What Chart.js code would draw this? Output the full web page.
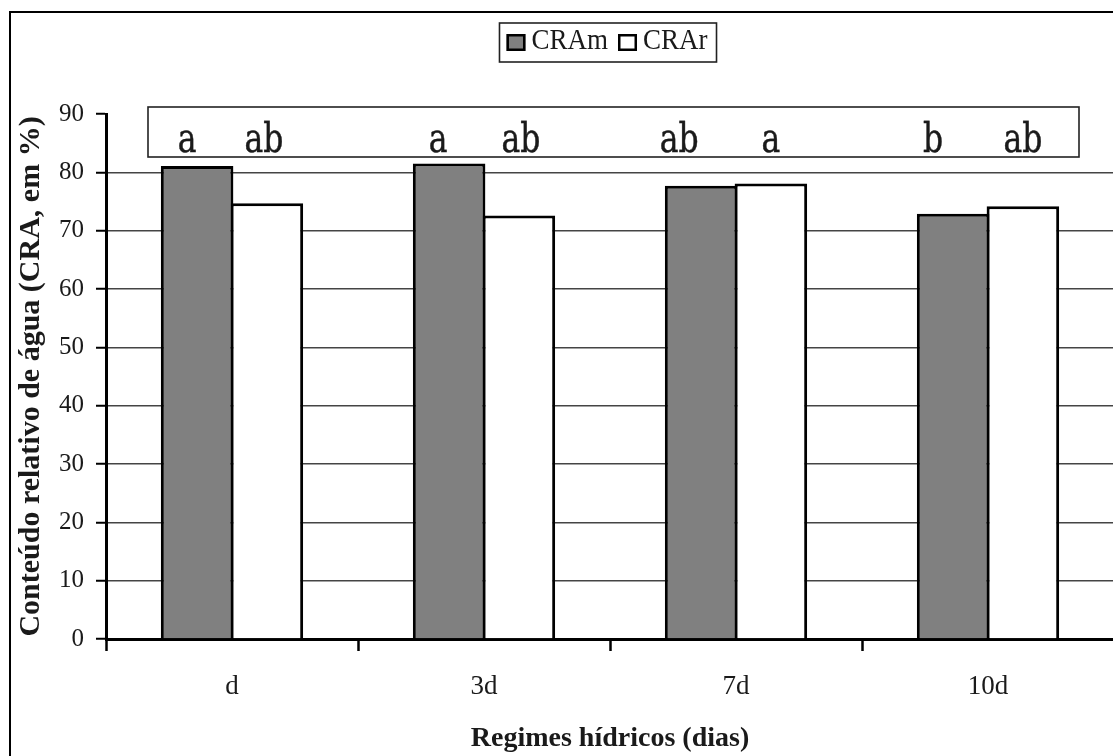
<!DOCTYPE html>
<html>
<head>
<meta charset="utf-8">
<script src="https://cdn.jsdelivr.net/npm/chart.js@4.4.1/dist/chart.umd.min.js"></script>
<style>
  html, body { margin: 0; padding: 0; background: #fff; overflow: hidden; width: 1113px; height: 756px; }
  #wrap { position: absolute; left: 0; top: 0; width: 1120px; height: 756px; }
  #frame { position: absolute; left: 9px; top: 11px; width: 1300px; height: 900px;
           border-left: 2px solid #000; border-top: 2px solid #000; pointer-events: none; }
</style>
</head>
<body>
<div id="wrap"><canvas id="c" width="1120" height="756"></canvas></div>
<div id="frame"></div>
<script>
// Water regimes (days between irrigations)
const regimes = ['d', '3d', '7d', '10d'];
// Relative water content (%), two measurements per regime
const cramValues = [81.1, 81.5, 77.7, 72.9];
const crarValues = [74.7, 72.6, 78.1, 74.2];
// Significance letters shown above each bar
const cramLetters = ['a', 'a', 'ab', 'b'];
const crarLetters = ['ab', 'ab', 'a', 'ab'];
// Y axis range
const yMin = 0;
const yMax = 90;
const yStep = 10;

const serif = "'Liberation Serif', 'Times New Roman', serif";
const ink = '#1a1a1a';

// Boxed row of significance letters over the bars
const letterBox = {
  id: 'letterBox',
  afterDatasetsDraw(chart, args, opts) {
    const ctx = chart.ctx;
    const b = opts.box;
    ctx.save();
    ctx.fillStyle = '#fff';
    ctx.fillRect(b.left, b.top, b.right - b.left, b.bottom - b.top);
    ctx.strokeStyle = '#222';
    ctx.lineWidth = 1.6;
    ctx.strokeRect(b.left, b.top, b.right - b.left, b.bottom - b.top);
    ctx.font = opts.font;
    ctx.fillStyle = ink;
    ctx.strokeStyle = ink;
    ctx.lineWidth = 0.4;
    ctx.textAlign = 'center';
    ctx.textBaseline = 'alphabetic';
    opts.letters.forEach((row, di) => {
      const meta = chart.getDatasetMeta(di);
      row.forEach((txt, i) => {
        ctx.save();
        ctx.translate(meta.data[i].x + opts.nudge[di][i], opts.baseline);
        ctx.scale(1, opts.stretch);
        ctx.fillText(txt, 0, 0);
        ctx.strokeText(txt, 0, 0);
        ctx.restore();
      });
    });
    ctx.restore();
  }
};

// Framed legend drawn from the dataset labels and colours
const boxedLegend = {
  id: 'boxedLegend',
  afterDraw(chart, args, opts) {
    const ctx = chart.ctx;
    ctx.save();
    ctx.font = opts.font;
    const items = chart.data.datasets.map(ds => ({
      text: ds.label, fill: ds.backgroundColor, w: ctx.measureText(ds.label).width
    }));
    const sqW = 19, sqH = 17, gap = 6, itemGap = 10, padL = 7, padR = 9;
    let total = padL + padR;
    items.forEach((it, k) => { total += sqW + gap + it.w + (k ? itemGap : 0); });
    const x0 = opts.centerX - total / 2;
    const top = opts.top, bottom = opts.bottom;
    ctx.fillStyle = '#fff';
    ctx.fillRect(x0, top, total, bottom - top);
    ctx.strokeStyle = '#222';
    ctx.lineWidth = 1.6;
    ctx.strokeRect(x0, top, total, bottom - top);
    let x = x0 + padL;
    const midY = (top + bottom) / 2;
    items.forEach((it, k) => {
      if (k) x += itemGap;
      ctx.fillStyle = it.fill;
      ctx.fillRect(x, midY - sqH / 2, sqW, sqH);
      ctx.strokeStyle = '#000';
      ctx.lineWidth = 2.5;
      ctx.strokeRect(x + 1.25, midY - sqH / 2 + 1.25, sqW - 2.5, sqH - 2.5);
      x += sqW + gap;
      ctx.fillStyle = ink;
      ctx.textAlign = 'left';
      ctx.textBaseline = 'alphabetic';
      ctx.save();
      ctx.translate(x, opts.baseline);
      ctx.scale(1, opts.stretch);
      ctx.fillText(it.text, 0, 0);
      ctx.restore();
      x += it.w;
    });
    ctx.restore();
  }
};

new Chart(document.getElementById('c'), {
  type: 'bar',
  data: {
    labels: regimes,
    datasets: [
      { label: 'CRAm', data: cramValues, backgroundColor: '#808080', borderColor: '#000', borderWidth: 3 },
      { label: 'CRAr', data: crarValues, backgroundColor: '#ffffff', borderColor: '#000', borderWidth: 3 }
    ]
  },
  options: {
    responsive: false,
    animation: false,
    layout: { padding: { top: 114, right: 6, bottom: 0, left: 0 } },
    datasets: { bar: { categoryPercentage: 0.5536, barPercentage: 1.04 } },
    plugins: {
      legend: { display: false },
      tooltip: { enabled: false },
      boxedLegend: { font: '27px ' + serif, centerX: 608, top: 23, bottom: 62, baseline: 49, stretch: 1.12 },
      letterBox: {
        box: { left: 148, right: 1079, top: 107, bottom: 157 },
        font: "35px 'DejaVu Serif Condensed', 'DejaVu Serif', serif",
        baseline: 152,
        stretch: 1.15,
        letters: [cramLetters, crarLetters],
        nudge: [[-10, -11, -22, -20], [-3, 2, 0, 0]]
      }
    },
    scales: {
      x: {
        offset: true,
        grid: { offset: true, drawOnChartArea: false, drawTicks: true, tickLength: 12, tickColor: '#000', tickWidth: 2.5 },
        border: { color: '#000', width: 3 },
        ticks: { font: { family: serif, size: 27 }, color: ink, padding: 20 },
        title: {
          display: true, text: 'Regimes hídricos (dias)', color: ink,
          font: { family: serif, size: 28, weight: 'bold' }, padding: { top: 0, bottom: 0 }
        },
        afterFit(scale) { scale.height = 117; }
      },
      y: {
        min: yMin,
        max: yMax,
        ticks: { stepSize: yStep, font: { family: serif, size: 25 }, color: ink, padding: 12 },
        grid: {
          color: c => (c.tick && c.tick.value === yMax) ? 'rgba(0,0,0,0)' : '#444',
          lineWidth: 1.5, tickLength: 10, tickColor: '#000', tickWidth: 2
        },
        border: { color: '#000', width: 3 },
        title: {
          display: true, text: 'Conteúdo relativo de água (CRA, em %)', color: ink,
          font: { family: serif, size: 30, weight: 'bold' }, padding: { top: 13, bottom: 0 }
        },
        afterFit(scale) { scale.width = 106; }
      }
    }
  },
  plugins: [letterBox, boxedLegend]
});
</script>
</body>
</html>
